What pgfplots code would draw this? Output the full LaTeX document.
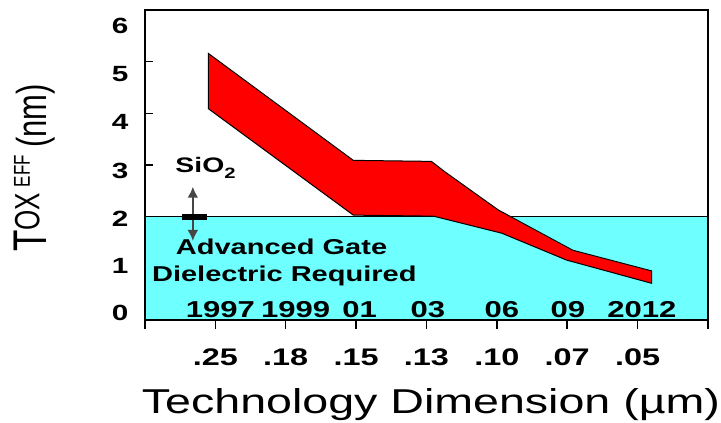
\documentclass[border=0pt]{standalone}
\usepackage{pgfplots}
\pgfplotsset{compat=1.18}
\usetikzlibrary{arrows.meta}
\usepackage{graphicx}
\usepackage{fontspec}
\setmainfont{Liberation Sans}
\newfontfamily\wide[FakeStretch=1.35]{Liberation Sans}
\newfontfamily\plain{Liberation Sans}
\definecolor{aqua}{RGB}{110,255,255}
\definecolor{arrowgray}{RGB}{70,70,70}
\begin{document}
\begin{tikzpicture}
\path[use as bounding box] (-145bp,-103bp) rectangle (576bp,320bp);
\begin{axis}[
  at={(0,0)}, anchor=south west,
  scale only axis, width=563bp, height=310bp,
  xmin=0, xmax=8, ymin=0, ymax=6,
  axis on top,
  axis line style={line width=1.5bp},
  /pgf/number format/assume math mode=true,
  xtick={0,...,8},
  xticklabels={,.25,.18,.15,.13,.10,.07,.05,},
  xtick pos=bottom,
  ytick pos=left,
  tick align=outside,
  major tick length=9bp,
  xtick style={line width=1.5bp, black},
  ytick={0.14,1.04,1.95,2.88,3.83,4.77,5.70},
  yticklabels={0,1,2,3,4,5,6},
  ytick style={draw=none},
  xticklabel style={font=\wide\bfseries\fontsize{24bp}{24bp}\selectfont, anchor=base, yshift=-36bp},
  yticklabel style={font=\wide\bfseries\fontsize{22bp}{22bp}\selectfont, anchor=east, xshift=-4bp},
  xlabel={Technology Dimension (µm)},
  xlabel style={font=\wide\fontsize{34.5bp}{35bp}\selectfont, at={(axis description cs:0.508,-0.30)}, anchor=base},
  ylabel={\plain\scalebox{1}[1.35]{\fontsize{35bp}{35bp}\selectfont T\raisebox{5bp}{\fontsize{26bp}{26bp}\selectfont OX}\hspace{6bp}\raisebox{12bp}{\fontsize{17bp}{17bp}\selectfont EFF}\hspace{7bp}\fontsize{31bp}{31bp}\selectfont(nm)}},
  ylabel style={at={(axis description cs:-0.197,0.49)}, anchor=center},
]
% region below 2 nm: advanced gate dielectric required
\addplot[fill=aqua, draw=none] coordinates {(0,0) (8,0) (8,2) (0,2)} -- cycle;
\addplot[black, line width=1bp] coordinates {(0,2) (8,2)};
% SiO2 thickness band
\addplot[fill=red, draw=black, line width=1bp] coordinates {
  (0.90,5.16) (2.96,3.09) (4.07,3.07) (4.26,2.87) (5.02,2.13) (6.08,1.35) (7.20,0.95)
  (7.20,0.71) (5.99,1.16) (5.07,1.68) (4.10,2.01) (2.96,2.03) (0.90,4.09)
} -- cycle;
% thick left border segment and inner y tick marks
\draw[line width=3bp] (axis cs:0,0) -- (axis cs:0,2);
\draw[line width=1.5bp] (axis cs:0,3) -- (axis cs:0.114,3);
\draw[line width=1.5bp] (axis cs:0,4) -- (axis cs:0.114,4);
\draw[line width=1.5bp] (axis cs:0,5) -- (axis cs:0.114,5);
% annotations
\draw[arrowgray, line width=2.5bp, -{Latex[length=11bp,width=11bp]}] (axis cs:0.68,2.0) -- (axis cs:0.68,2.58);
\draw[arrowgray, line width=2.5bp, -{Latex[length=11bp,width=11bp]}] (axis cs:0.68,2.0) -- (axis cs:0.68,1.53);
\draw[black, line width=6bp] (axis cs:0.53,2) -- (axis cs:0.88,2);
\node[anchor=base, font=\wide\bfseries\fontsize{21bp}{21bp}\selectfont] at (axis cs:0.86,2.86) {SiO\raisebox{-6bp}{\fontsize{15bp}{15bp}\selectfont 2}};
\node[anchor=base, font=\wide\bfseries\fontsize{21.5bp}{21.5bp}\selectfont] at (axis cs:1.94,1.26) {Advanced Gate};
\node[anchor=base, font=\wide\bfseries\fontsize{21.5bp}{21.5bp}\selectfont] at (axis cs:1.98,0.74) {Dielectric Required};
\node[anchor=base, font=\wide\bfseries\fontsize{23bp}{23bp}\selectfont] at (axis cs:1.07,0.04) {1997};
\node[anchor=base, font=\wide\bfseries\fontsize{23bp}{23bp}\selectfont] at (axis cs:2.14,0.04) {1999};
\node[anchor=base, font=\wide\bfseries\fontsize{23bp}{23bp}\selectfont] at (axis cs:3.05,0.04) {01};
\node[anchor=base, font=\wide\bfseries\fontsize{23bp}{23bp}\selectfont] at (axis cs:4.02,0.04) {03};
\node[anchor=base, font=\wide\bfseries\fontsize{23bp}{23bp}\selectfont] at (axis cs:5.07,0.04) {06};
\node[anchor=base, font=\wide\bfseries\fontsize{23bp}{23bp}\selectfont] at (axis cs:6.01,0.04) {09};
\node[anchor=base, font=\wide\bfseries\fontsize{23bp}{23bp}\selectfont] at (axis cs:7.06,0.04) {2012};
\end{axis}
\end{tikzpicture}
\end{document}
